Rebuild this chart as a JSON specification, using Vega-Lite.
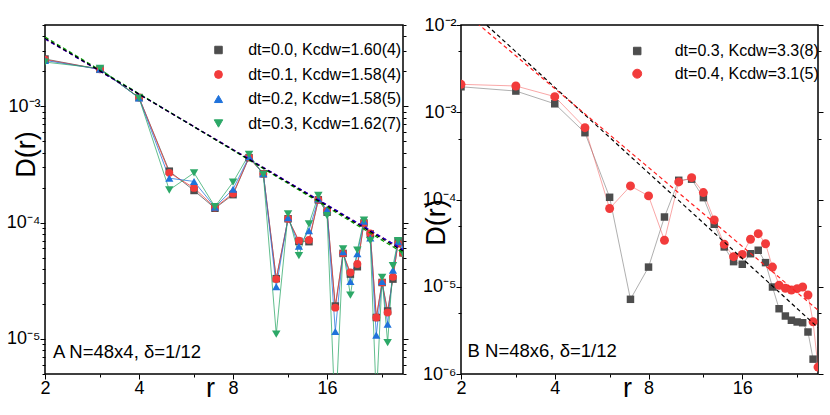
{
  "$schema": "https://vega.github.io/schema/vega-lite/v6.json",
  "padding": {"left": 5, "top": 15, "right": 5, "bottom": 5},
  "bounds": "flush",
  "spacing": 58,
  "resolve": {
    "scale": {"x": "independent", "y": "independent", "color": "independent", "shape": "independent", "size": "independent", "stroke": "independent"},
    "axis": {"x": "independent", "y": "independent"},
    "legend": {"color": "independent", "shape": "independent", "size": "independent", "stroke": "independent"}
  },
  "config": {
    "font": "Liberation Sans",
    "view": {"stroke": "#000", "strokeWidth": 1.5},
    "axis": {"zindex": 1, "domain": false, "grid": false, "tickColor": "#000", "tickWidth": 1, "labelFont": "Liberation Sans", "labelFontSize": 18, "labelColor": "#000", "labelOverlap": false, "labelFlush": false, "labelBound": false, "titleFont": "Liberation Sans", "titleFontSize": 27, "titleFontWeight": "normal", "titleColor": "#000"},
    "legend": {"labelFont": "Liberation Sans", "labelFontSize": 16, "labelColor": "#000", "labelLimit": 0, "padding": 0}
  },
  "datasets": {
    "A": [
      {"dt":"0.0","r":2,"D":2.55e-3},{"dt":"0.0","r":3,"D":2.08e-3},{"dt":"0.0","r":4,"D":1.19e-3},{"dt":"0.0","r":5,"D":2.77e-4},{"dt":"0.0","r":6,"D":1.89e-4},{"dt":"0.0","r":7,"D":1.33e-4},{"dt":"0.0","r":8,"D":1.74e-4},{"dt":"0.0","r":9,"D":3.62e-4},{"dt":"0.0","r":10,"D":2.63e-4},{"dt":"0.0","r":11,"D":3.3e-5},{"dt":"0.0","r":12,"D":1.08e-4},{"dt":"0.0","r":13,"D":6.9e-5},{"dt":"0.0","r":14,"D":6.86e-5},{"dt":"0.0","r":15,"D":1.57e-4},{"dt":"0.0","r":16,"D":1.23e-4},{"dt":"0.0","r":17,"D":1.92e-5},{"dt":"0.0","r":18,"D":5.44e-5},{"dt":"0.0","r":19,"D":3.61e-5},{"dt":"0.0","r":20,"D":4.18e-5},{"dt":"0.0","r":21,"D":9.94e-5},{"dt":"0.0","r":22,"D":8.0e-5},{"dt":"0.0","r":23,"D":1.53e-5},{"dt":"0.0","r":24,"D":3.06e-5},{"dt":"0.0","r":25,"D":1.74e-5},{"dt":"0.0","r":26,"D":3.27e-5},{"dt":"0.0","r":27,"D":6.86e-5},{"dt":"0.0","r":28,"D":5.5e-5},
      {"dt":"0.1","r":2,"D":2.52e-3},{"dt":"0.1","r":3,"D":2.08e-3},{"dt":"0.1","r":4,"D":1.19e-3},{"dt":"0.1","r":5,"D":2.68e-4},{"dt":"0.1","r":6,"D":1.99e-4},{"dt":"0.1","r":7,"D":1.35e-4},{"dt":"0.1","r":8,"D":1.78e-4},{"dt":"0.1","r":9,"D":3.64e-4},{"dt":"0.1","r":10,"D":2.63e-4},{"dt":"0.1","r":11,"D":3.27e-5},{"dt":"0.1","r":12,"D":1.08e-4},{"dt":"0.1","r":13,"D":7.0e-5},{"dt":"0.1","r":14,"D":7.1e-5},{"dt":"0.1","r":15,"D":1.57e-4},{"dt":"0.1","r":16,"D":1.26e-4},{"dt":"0.1","r":17,"D":1.86e-5},{"dt":"0.1","r":18,"D":5.44e-5},{"dt":"0.1","r":19,"D":3.73e-5},{"dt":"0.1","r":20,"D":4.41e-5},{"dt":"0.1","r":21,"D":9.94e-5},{"dt":"0.1","r":22,"D":8.09e-5},{"dt":"0.1","r":23,"D":1.53e-5},{"dt":"0.1","r":24,"D":3.06e-5},{"dt":"0.1","r":25,"D":1.69e-5},{"dt":"0.1","r":26,"D":3.42e-5},{"dt":"0.1","r":27,"D":6.6e-5},{"dt":"0.1","r":28,"D":5.5e-5},
      {"dt":"0.2","r":2,"D":2.48e-3},{"dt":"0.2","r":3,"D":2.08e-3},{"dt":"0.2","r":4,"D":1.18e-3},{"dt":"0.2","r":5,"D":2.41e-4},{"dt":"0.2","r":6,"D":2.26e-4},{"dt":"0.2","r":7,"D":1.36e-4},{"dt":"0.2","r":8,"D":1.94e-4},{"dt":"0.2","r":9,"D":3.68e-4},{"dt":"0.2","r":10,"D":2.63e-4},{"dt":"0.2","r":11,"D":2.81e-5},{"dt":"0.2","r":12,"D":1.1e-4},{"dt":"0.2","r":13,"D":6.27e-5},{"dt":"0.2","r":14,"D":8.53e-5},{"dt":"0.2","r":15,"D":1.6e-4},{"dt":"0.2","r":16,"D":1.29e-4},{"dt":"0.2","r":17,"D":1.16e-5},{"dt":"0.2","r":18,"D":5.62e-5},{"dt":"0.2","r":19,"D":3.12e-5},{"dt":"0.2","r":20,"D":5.4e-5},{"dt":"0.2","r":21,"D":1.03e-4},{"dt":"0.2","r":22,"D":7.38e-5},{"dt":"0.2","r":23,"D":1.08e-5},{"dt":"0.2","r":24,"D":3.12e-5},{"dt":"0.2","r":25,"D":1.34e-5},{"dt":"0.2","r":26,"D":3.91e-5},{"dt":"0.2","r":27,"D":6.86e-5},{"dt":"0.2","r":28,"D":6.0e-5},
      {"dt":"0.3","r":2,"D":2.40e-3},{"dt":"0.3","r":3,"D":2.12e-3},{"dt":"0.3","r":4,"D":1.18e-3},{"dt":"0.3","r":5,"D":1.91e-4},{"dt":"0.3","r":6,"D":2.68e-4},{"dt":"0.3","r":7,"D":1.37e-4},{"dt":"0.3","r":8,"D":2.23e-4},{"dt":"0.3","r":9,"D":3.86e-4},{"dt":"0.3","r":10,"D":2.60e-4},{"dt":"0.3","r":11,"D":1.10e-5},{"dt":"0.3","r":12,"D":1.19e-4},{"dt":"0.3","r":13,"D":5.2e-5},{"dt":"0.3","r":14,"D":9.75e-5},{"dt":"0.3","r":15,"D":1.71e-4},{"dt":"0.3","r":16,"D":1.15e-4},{"dt":"0.3","r":17,"D":2.0e-6},{"dt":"0.3","r":18,"D":5.93e-5},{"dt":"0.3","r":19,"D":2.38e-5},{"dt":"0.3","r":20,"D":5.8e-5},{"dt":"0.3","r":21,"D":1.05e-4},{"dt":"0.3","r":22,"D":7.0e-5},{"dt":"0.3","r":23,"D":3.0e-6},{"dt":"0.3","r":24,"D":3.38e-5},{"dt":"0.3","r":25,"D":9.3e-6},{"dt":"0.3","r":26,"D":4.26e-5},{"dt":"0.3","r":27,"D":7.0e-5},{"dt":"0.3","r":28,"D":5.4e-5}
    ],
    "Afit": [
      {"dt":"0.1","r":2,"fit":3.8e-3},{"dt":"0.1","r":28,"fit":5.86e-5},
      {"dt":"0.3","r":2,"fit":3.95e-3},{"dt":"0.3","r":28,"fit":5.5e-5},
      {"dt":"0.2","r":2,"fit":3.8e-3},{"dt":"0.2","r":28,"fit":5.86e-5},
      {"dt":"0.0","r":2,"fit":3.85e-3},{"dt":"0.0","r":28,"fit":5.7e-5}
    ],
    "B": [
      {"dt":"0.3","r":2,"D":1.96e-3},{"dt":"0.3","r":3,"D":1.75e-3},{"dt":"0.3","r":4,"D":1.25e-3},{"dt":"0.3","r":5,"D":5.83e-4},{"dt":"0.3","r":6,"D":1.06e-4},{"dt":"0.3","r":7,"D":7.18e-6},{"dt":"0.3","r":8,"D":1.68e-5},{"dt":"0.3","r":9,"D":6.3e-5},{"dt":"0.3","r":10,"D":1.66e-4},{"dt":"0.3","r":11,"D":1.71e-4},{"dt":"0.3","r":12,"D":1.05e-4},{"dt":"0.3","r":13,"D":5.2e-5},{"dt":"0.3","r":14,"D":2.86e-5},{"dt":"0.3","r":15,"D":1.94e-5},{"dt":"0.3","r":16,"D":1.81e-5},{"dt":"0.3","r":17,"D":2.39e-5},{"dt":"0.3","r":18,"D":2.62e-5},{"dt":"0.3","r":19,"D":1.89e-5},{"dt":"0.3","r":20,"D":9.93e-6},{"dt":"0.3","r":21,"D":5.6e-6},{"dt":"0.3","r":22,"D":4.62e-6},{"dt":"0.3","r":23,"D":4.13e-6},{"dt":"0.3","r":24,"D":3.95e-6},{"dt":"0.3","r":25,"D":3.87e-6},{"dt":"0.3","r":26,"D":3.03e-6},{"dt":"0.3","r":27,"D":1.48e-6},
      {"dt":"0.4","r":2,"D":2.09e-3},{"dt":"0.4","r":3,"D":2.0e-3},{"dt":"0.4","r":4,"D":1.51e-3},{"dt":"0.4","r":5,"D":6.65e-4},{"dt":"0.4","r":6,"D":7.88e-5},{"dt":"0.4","r":7,"D":1.43e-4},{"dt":"0.4","r":8,"D":1.1e-4},{"dt":"0.4","r":9,"D":3.41e-5},{"dt":"0.4","r":10,"D":1.59e-4},{"dt":"0.4","r":11,"D":1.78e-4},{"dt":"0.4","r":12,"D":1.2e-4},{"dt":"0.4","r":13,"D":5.82e-5},{"dt":"0.4","r":14,"D":3.07e-5},{"dt":"0.4","r":15,"D":2.21e-5},{"dt":"0.4","r":16,"D":2.35e-5},{"dt":"0.4","r":17,"D":3.5e-5},{"dt":"0.4","r":18,"D":4.06e-5},{"dt":"0.4","r":19,"D":3.11e-5},{"dt":"0.4","r":20,"D":1.68e-5},{"dt":"0.4","r":21,"D":1.04e-5},{"dt":"0.4","r":22,"D":9.6e-6},{"dt":"0.4","r":23,"D":9.18e-6},{"dt":"0.4","r":24,"D":9.5e-6},{"dt":"0.4","r":25,"D":9.93e-6},{"dt":"0.4","r":26,"D":8.04e-6},{"dt":"0.4","r":27,"D":3.97e-6},{"dt":"0.4","r":28,"D":1.2e-6}
    ],
    "Bfit": [
      {"dt":"0.3","r":2,"fit":1.85e-2},{"dt":"0.3","r":28,"fit":3.4e-6},
      {"dt":"0.4","r":2,"fit":1.5e-2},{"dt":"0.4","r":28,"fit":5.4e-6}
    ]
  },
  "hconcat": [
    {
      "width": 358,
      "height": 349,
      "resolve": {"axis": {"x": "independent", "y": "independent"}},
      "layer": [
        {
          "data": {"name": "A"},
          "mark": {"type": "line", "clip": true, "strokeWidth": 1, "strokeOpacity": 0.75},
          "encoding": {
            "x": {"field": "r", "type": "quantitative", "scale": {"type": "log", "domain": [2, 28], "nice": false},
              "axis": {"orient": "bottom", "title": "r", "values": [2, 4, 8, 16], "format": "d", "tickSize": 5, "labelPadding": 0, "titleX": 165, "titleY": 22, "titleAlign": "center", "titleBaseline": "alphabetic", "titleAngle": 0}},
            "y": {"field": "D", "type": "quantitative", "scale": {"type": "log", "domain": [5e-6, 5e-3], "nice": false},
              "axis": {"orient": "left", "values": [1e-5, 1e-4, 1e-3], "labelExpr": "'10⁻' + ['⁰','¹','²','³','⁴','⁵','⁶','⁷','⁸','⁹'][-round(log(datum.value)/LN10)]", "tickSize": 5, "labelPadding": 0, "title": "D(r)", "titleX": -18.5, "titleY": 129, "titleAngle": -90, "titleAlign": "center", "titleBaseline": "middle"}},
            "color": {"field": "dt", "type": "nominal", "scale": {"domain": ["0.0", "0.1", "0.2", "0.3"], "range": ["#4d4d4d", "#f23b3b", "#1f72db", "#2ca867"]}}
          }
        },
        {
          "data": {"name": "A"},
          "mark": {"type": "point", "filled": true, "opacity": 1, "clip": true},
          "encoding": {
            "x": {"field": "r", "type": "quantitative",
              "axis": {"orient": "bottom", "values": [3, 6, 12, 24], "labels": false, "title": null, "tickSize": 3}},
            "y": {"field": "D", "type": "quantitative",
              "axis": {"orient": "left", "values": [5e-6,6e-6,7e-6,8e-6,9e-6,2e-5,3e-5,4e-5,5e-5,6e-5,7e-5,8e-5,9e-5,2e-4,3e-4,4e-4,5e-4,6e-4,7e-4,8e-4,9e-4,2e-3,3e-3,4e-3,5e-3], "labels": false, "title": null, "tickSize": 3}},
            "color": {"field": "dt", "type": "nominal",
              "legend": {"orient": "none", "legendX": 165.5, "legendY": 17, "title": null, "rowPadding": 8.5, "labelOffset": 21.7, "symbolSize": 49, "symbolStrokeWidth": 1, "labelExpr": "'dt=' + datum.label + ', Kcdw=' + ['1.60(4)','1.58(4)','1.58(5)','1.62(7)'][datum.index]",
                "encode": {"symbols": {
                  "shape": {"value": {"expr": "['M-5.5,0H5.5M-1.1,-1.1H1.1V1.1H-1.1Z','M-5.5,0H5.5M1.3,0C1.3,0.718 0.718,1.3 0,1.3C-0.718,1.3 -1.3,0.718 -1.3,0C-1.3,-0.718 -0.718,-1.3 0,-1.3C0.718,-1.3 1.3,-0.718 1.3,0Z','M-5.5,0H5.5M0,-1.4L1.5,1.1H-1.5Z','M-5.5,0H5.5M0,1.4L1.5,-1.1H-1.5Z'][datum.index]"}},
                  "stroke": {"value": {"expr": "['#555555','#f25555','#6fa6ea','#4cb57f'][datum.index]"}},
                  "strokeWidth": {"value": 1.2}
                }}}},
            "shape": {"field": "dt", "type": "nominal", "scale": {"domain": ["0.0", "0.1", "0.2", "0.3"], "range": ["square", "circle", "triangle-up", "triangle-down"]}, "legend": null},
            "size": {"field": "dt", "type": "nominal", "scale": {"domain": ["0.0", "0.1", "0.2", "0.3"], "range": [56, 72, 85, 85]}, "legend": null}
          }
        },
        {
          "data": {"name": "Afit"},
          "mark": {"type": "line", "clip": true, "strokeDash": [4, 3], "strokeWidth": 1.2},
          "encoding": {
            "x": {"field": "r", "type": "quantitative", "axis": null},
            "y": {"field": "fit", "type": "quantitative",
              "axis": {"orient": "right", "values": [1e-5, 1e-4, 1e-3], "labels": false, "title": null, "tickSize": 5}},
            "stroke": {"field": "dt", "type": "nominal", "scale": {"domain": ["0.0", "0.1", "0.2", "0.3"], "range": ["#000000", "#ff0000", "#0000ff", "#00a000"]}, "legend": null},
            "detail": {"field": "dt"}
          }
        },
        {
          "data": {"values": [{}]},
          "mark": {"type": "text", "align": "left", "baseline": "middle", "fontSize": 18.5, "font": "Liberation Sans", "color": "#000"},
          "encoding": {
            "x": {"datum": 2.12, "type": "quantitative", "axis": null},
            "y": {"datum": 7.7e-6, "type": "quantitative",
              "axis": {"orient": "right", "values": [5e-6,6e-6,7e-6,8e-6,9e-6,2e-5,3e-5,4e-5,5e-5,6e-5,7e-5,8e-5,9e-5,2e-4,3e-4,4e-4,5e-4,6e-4,7e-4,8e-4,9e-4,2e-3,3e-3,4e-3,5e-3], "labels": false, "title": null, "tickSize": 3}},
            "text": {"value": "A N=48x4, δ=1/12"}
          }
        }
      ]
    },
    {
      "width": 357,
      "height": 349,
      "resolve": {"axis": {"x": "independent", "y": "independent"}},
      "layer": [
        {
          "data": {"name": "B"},
          "mark": {"type": "line", "clip": true, "strokeWidth": 1, "strokeOpacity": 0.45},
          "encoding": {
            "x": {"field": "r", "type": "quantitative", "scale": {"type": "log", "domain": [2, 28], "nice": false},
              "axis": {"orient": "bottom", "title": "r", "values": [2, 4, 8, 16], "format": "d", "tickSize": 5, "labelPadding": 0, "titleX": 166, "titleY": 22, "titleAlign": "center", "titleBaseline": "alphabetic", "titleAngle": 0}},
            "y": {"field": "D", "type": "quantitative", "scale": {"type": "log", "domain": [1e-6, 1e-2], "nice": false},
              "axis": {"orient": "left", "values": [1e-6, 1e-5, 1e-4, 1e-3, 1e-2], "labelExpr": "'10⁻' + ['⁰','¹','²','³','⁴','⁵','⁶','⁷','⁸','⁹'][-round(log(datum.value)/LN10)]", "tickSize": 5, "labelPadding": 0, "title": "D(r)", "titleX": -25, "titleY": 197, "titleAngle": -90, "titleAlign": "center", "titleBaseline": "middle"}},
            "color": {"field": "dt", "type": "nominal", "scale": {"domain": ["0.3", "0.4"], "range": ["#4d4d4d", "#f23b3b"]}}
          }
        },
        {
          "data": {"name": "B"},
          "mark": {"type": "point", "filled": true, "opacity": 1, "clip": true},
          "encoding": {
            "x": {"field": "r", "type": "quantitative",
              "axis": {"orient": "bottom", "values": [3, 6, 12, 24], "labels": false, "title": null, "tickSize": 3}},
            "y": {"field": "D", "type": "quantitative",
              "axis": {"orient": "left", "values": [5e-6, 5e-5, 5e-4, 5e-3], "labels": false, "title": null, "tickSize": 3}},
            "color": {"field": "dt", "type": "nominal",
              "legend": {"orient": "none", "legendX": 168.2, "legendY": 18, "title": null, "rowPadding": 6.7, "labelOffset": 29.5, "symbolSize": 49, "symbolStrokeWidth": 1, "labelExpr": "'dt=' + datum.label + ', Kcdw=' + ['3.3(8)','3.1(5)'][datum.index]",
                "encode": {"symbols": {
                  "shape": {"value": {"expr": "['M-5.3,0H5.3M-1.05,-1.05H1.05V1.05H-1.05Z','M-5.3,0H5.3M1.3,0C1.3,0.718 0.718,1.3 0,1.3C-0.718,1.3 -1.3,0.718 -1.3,0C-1.3,-0.718 -0.718,-1.3 0,-1.3C0.718,-1.3 1.3,-0.718 1.3,0Z'][datum.index]"}},
                  "stroke": {"value": {"expr": "['#9a9a9a','#f59a9a'][datum.index]"}},
                  "strokeWidth": {"value": 1.2}
                }}}},
            "shape": {"field": "dt", "type": "nominal", "scale": {"domain": ["0.3", "0.4"], "range": ["square", "circle"]}, "legend": null},
            "size": {"field": "dt", "type": "nominal", "scale": {"domain": ["0.3", "0.4"], "range": [56, 80]}, "legend": null}
          }
        },
        {
          "data": {"name": "Bfit"},
          "mark": {"type": "line", "clip": true, "strokeDash": [4, 3], "strokeWidth": 1.2},
          "encoding": {
            "x": {"field": "r", "type": "quantitative", "axis": null},
            "y": {"field": "fit", "type": "quantitative",
              "axis": {"orient": "right", "values": [1e-6, 1e-5, 1e-4, 1e-3, 1e-2], "labels": false, "title": null, "tickSize": 5}},
            "stroke": {"field": "dt", "type": "nominal", "scale": {"domain": ["0.3", "0.4"], "range": ["#000000", "#ff2020"]}, "legend": null},
            "detail": {"field": "dt"}
          }
        },
        {
          "data": {"values": [{}]},
          "mark": {"type": "text", "align": "left", "baseline": "middle", "fontSize": 18.5, "font": "Liberation Sans", "color": "#000"},
          "encoding": {
            "x": {"datum": 2.1, "type": "quantitative", "axis": null},
            "y": {"datum": 1.84e-6, "type": "quantitative",
              "axis": {"orient": "right", "values": [5e-6, 5e-5, 5e-4, 5e-3], "labels": false, "title": null, "tickSize": 3}},
            "text": {"value": "B N=48x6, δ=1/12"}
          }
        }
      ]
    }
  ]
}
